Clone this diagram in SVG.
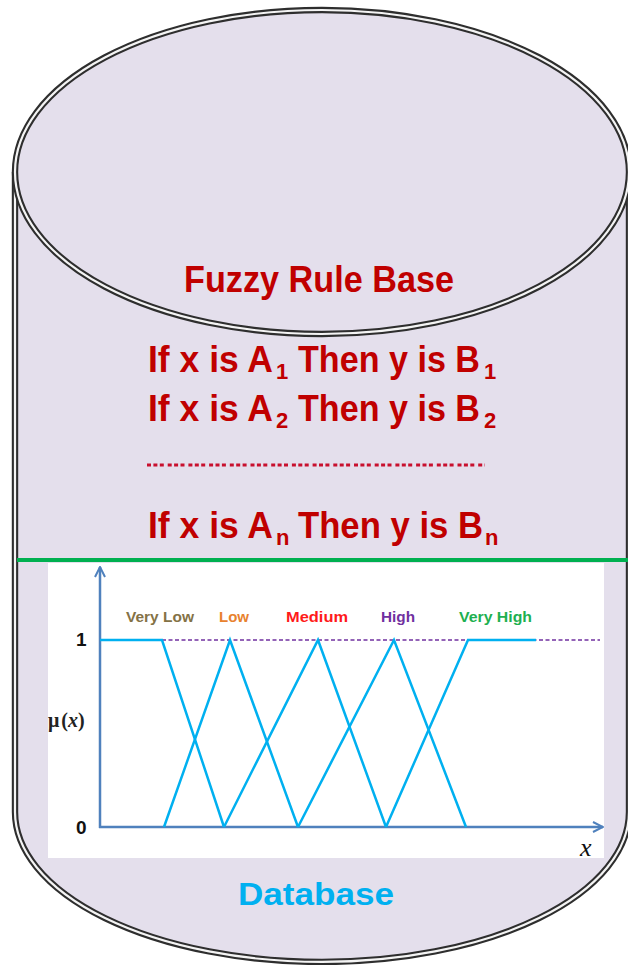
<svg xmlns="http://www.w3.org/2000/svg" width="628" height="965" viewBox="0 0 628 965">
<style>
.wallo{fill:none;stroke:#2e2e2e;stroke-width:6.4}
.walli{fill:none;stroke:#f4f4f4;stroke-width:2.2}
.rule{font-family:"Liberation Sans",Arial,sans-serif;font-weight:bold;fill:#C00000;font-size:37px}
.s{font-size:22px}
.mf{fill:none;stroke:#00B0F0;stroke-width:2.5;stroke-linejoin:miter}
.axis{fill:none;stroke:#4F81BD;stroke-width:2.5}
.lbl{font-family:"Liberation Sans",Arial,sans-serif;font-weight:bold;font-size:14px}
.num{font-family:"Liberation Sans",Arial,sans-serif;font-weight:bold;font-size:19px;fill:#111}
</style>
<defs>
<marker id="ah" viewBox="0 0 10 10" refX="9" refY="5" markerWidth="5" markerHeight="5" orient="auto" markerUnits="strokeWidth">
<path d="M1 1 L9 5 L1 9" fill="none" stroke="#4F81BD" stroke-width="1.6"/>
</marker>
</defs>
<rect width="628" height="965" fill="#ffffff"/>
<g id="cylinder">
<path d="M15 172 L15 812 A307 150 0 0 0 629 812 L629 172 Z" fill="#E4DFEC"/>
<path class="wallo" d="M15 172 L15 812 A307 150 0 0 0 629 812 L629 172"/>
<path class="walli" d="M15 172 L15 812 A307 150 0 0 0 629 812 L629 172"/>
<ellipse cx="322" cy="172" rx="307" ry="162" fill="#E4DFEC"/>
<ellipse class="wallo" cx="322" cy="172" rx="307" ry="162"/>
<ellipse class="walli" cx="322" cy="172" rx="307" ry="162"/>
</g>
<g id="rulebase">
<text class="rule" x="184" y="292" font-size="35" textLength="270" lengthAdjust="spacingAndGlyphs">Fuzzy Rule Base</text>
<text class="rule" y="372"><tspan x="148" textLength="125" lengthAdjust="spacingAndGlyphs">If x is A</tspan><tspan class="s" x="276" dy="7">1</tspan><tspan x="298" dy="-7" textLength="182" lengthAdjust="spacingAndGlyphs">Then y is B</tspan><tspan class="s" x="484" dy="7">1</tspan></text>
<text class="rule" y="421"><tspan x="148" textLength="125" lengthAdjust="spacingAndGlyphs">If x is A</tspan><tspan class="s" x="276" dy="7">2</tspan><tspan x="298" dy="-7" textLength="182" lengthAdjust="spacingAndGlyphs">Then y is B</tspan><tspan class="s" x="484" dy="7">2</tspan></text>
<line x1="147" y1="465" x2="485" y2="465" stroke="#C8102E" stroke-width="3.2" stroke-dasharray="4 2.4 4 2.4 4 3.9"/>
<text class="rule" y="538"><tspan x="148" textLength="125" lengthAdjust="spacingAndGlyphs">If x is A</tspan><tspan class="s" x="276" dy="7">n</tspan><tspan x="298" dy="-7" textLength="185" lengthAdjust="spacingAndGlyphs">Then y is B</tspan><tspan class="s" x="485" dy="7">n</tspan></text>
</g>
<line id="divider" x1="17" y1="560" x2="628" y2="560" stroke="#00B050" stroke-width="4"/>
<g id="database">
<rect x="48" y="563" width="556" height="295" fill="#ffffff"/>
<line x1="162" y1="640" x2="600" y2="640" stroke="#7030A0" stroke-width="1.5" stroke-dasharray="4 2.5"/>
<g id="connectors">
<line class="axis" x1="100" y1="828" x2="100" y2="567" marker-end="url(#ah)"/>
<line class="axis" x1="99" y1="827" x2="603" y2="827" marker-end="url(#ah)"/>
</g>
<polyline class="mf" points="100,640 162,640 224,827"/>
<polyline class="mf" points="164,827 230,640 298,827"/>
<polyline class="mf" points="224,827 318,640 386,827"/>
<polyline class="mf" points="298,827 394,640 466,827"/>
<polyline class="mf" points="386,827 468,640 536,640"/>
<text class="lbl" x="126" y="622" fill="#847246" textLength="68" lengthAdjust="spacingAndGlyphs">Very Low</text>
<text class="lbl" x="219" y="622" fill="#E8822E" textLength="30" lengthAdjust="spacingAndGlyphs">Low</text>
<text class="lbl" x="286" y="622" fill="#FF1A1A" textLength="62" lengthAdjust="spacingAndGlyphs">Medium</text>
<text class="lbl" x="381" y="622" fill="#7030A0" textLength="34" lengthAdjust="spacingAndGlyphs">High</text>
<text class="lbl" x="459" y="622" fill="#1EB050" textLength="73" lengthAdjust="spacingAndGlyphs">Very High</text>
<text class="num" x="76" y="646">1</text>
<text class="num" x="76" y="834">0</text>
<text x="48" y="727" font-family="'Liberation Serif',serif" font-weight="bold" font-size="20" fill="#222">μ<tspan dx="2">(</tspan><tspan font-style="italic">x</tspan>)</text>
<text x="580" y="856" font-family="'Liberation Serif',serif" font-style="italic" font-size="26" fill="#111">x</text>
<text x="238" y="905" font-family="'Liberation Sans',Arial,sans-serif" font-weight="bold" font-size="31" fill="#00B0F0" textLength="156" lengthAdjust="spacingAndGlyphs">Database</text>
</g>
</svg>
